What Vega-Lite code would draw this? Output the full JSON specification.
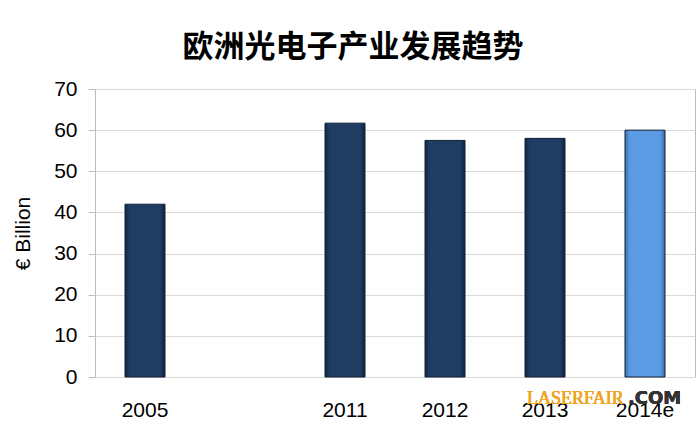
{
  "$schema": "https://vega.github.io/schema/vega-lite/v6.json",
  "width": 600,
  "height": 288,
  "autosize": {"type": "none"},
  "padding": {"left": 95, "top": 89, "right": 5, "bottom": 44},
  "background": "white",
  "title": {
    "text": "欧洲光电子产业发展趋势",
    "font": "Noto Sans CJK SC",
    "fontSize": 31,
    "fontWeight": "bold",
    "color": "#000000",
    "anchor": "middle",
    "dx": -42,
    "offset": 14
  },
  "config": {
    "view": {"stroke": "#bcbcbc", "strokeWidth": 1},
    "axis": {"labelFont": "Liberation Sans", "titleFont": "Liberation Sans", "labelColor": "#000000", "titleColor": "#000000"}
  },
  "data": {
    "values": [
      {"year": "2005", "value": 42, "type": "actual"},
      {"year": "2011", "value": 61.7, "type": "actual"},
      {"year": "2012", "value": 57.5, "type": "actual"},
      {"year": "2013", "value": 58, "type": "actual"},
      {"year": "2014e", "value": 60, "type": "estimate"}
    ]
  },
  "layer": [
    {
      "mark": {"type": "bar", "stroke": "#102038", "strokeWidth": 1},
      "encoding": {
        "x": {
          "field": "year",
          "type": "nominal",
          "sort": null,
          "title": null,
          "scale": {"domain": ["2005", " ", "2011", "2012", "2013", "2014e"], "paddingInner": 0.6, "paddingOuter": 0.3},
          "axis": {"labelAngle": 0, "labelFontSize": 21, "labelPadding": 22, "ticks": false, "domain": false, "grid": false}
        },
        "y": {
          "field": "value",
          "type": "quantitative",
          "title": "€ Billion",
          "scale": {"domain": [0, 70], "nice": false},
          "axis": {
            "values": [0, 10, 20, 30, 40, 50, 60, 70],
            "labelFontSize": 21,
            "labelPadding": 11,
            "tickSize": 7,
            "tickColor": "#bcbcbc",
            "domain": false,
            "grid": true,
            "gridColor": "#dadada",
            "titleFontSize": 21,
            "titleFontWeight": "normal",
            "titlePadding": 20
          }
        },
        "color": {
          "condition": {
            "test": "datum.type === 'estimate'",
            "value": {
              "gradient": "linear", "x1": 0, "x2": 1, "y1": 0, "y2": 0,
              "stops": [
                {"offset": 0, "color": "#3a70b0"},
                {"offset": 0.12, "color": "#5b9be3"},
                {"offset": 0.88, "color": "#5b9be3"},
                {"offset": 1, "color": "#3a6aa5"}
              ]
            }
          },
          "value": {
            "gradient": "linear", "x1": 0, "x2": 1, "y1": 0, "y2": 0,
            "stops": [
              {"offset": 0, "color": "#132844"},
              {"offset": 0.12, "color": "#1f3c63"},
              {"offset": 0.88, "color": "#1f3c63"},
              {"offset": 1, "color": "#11223a"}
            ]
          }
        }
      }
    },
    {
      "mark": {"type": "text", "text": "LASERFAIR", "font": "Liberation Serif", "fontSize": 18, "color": "#f0a526", "align": "left", "baseline": "alphabetic", "dx": -18},
      "encoding": {
        "x": {"datum": "2013", "type": "nominal", "title": null},
        "y": {"datum": -6.6, "type": "quantitative", "title": "€ Billion", "scale": {"domain": [0, 70], "nice": false}}
      }
    },
    {
      "mark": {"type": "text", "text": ".COM", "font": "DejaVu Sans", "fontWeight": "bold", "fontSize": 18, "color": "#333333", "align": "left", "baseline": "alphabetic", "dx": -17},
      "encoding": {
        "x": {"datum": "2014e", "type": "nominal", "title": null},
        "y": {"datum": -6.6, "type": "quantitative", "title": "€ Billion", "scale": {"domain": [0, 70], "nice": false}}
      }
    }
  ]
}
